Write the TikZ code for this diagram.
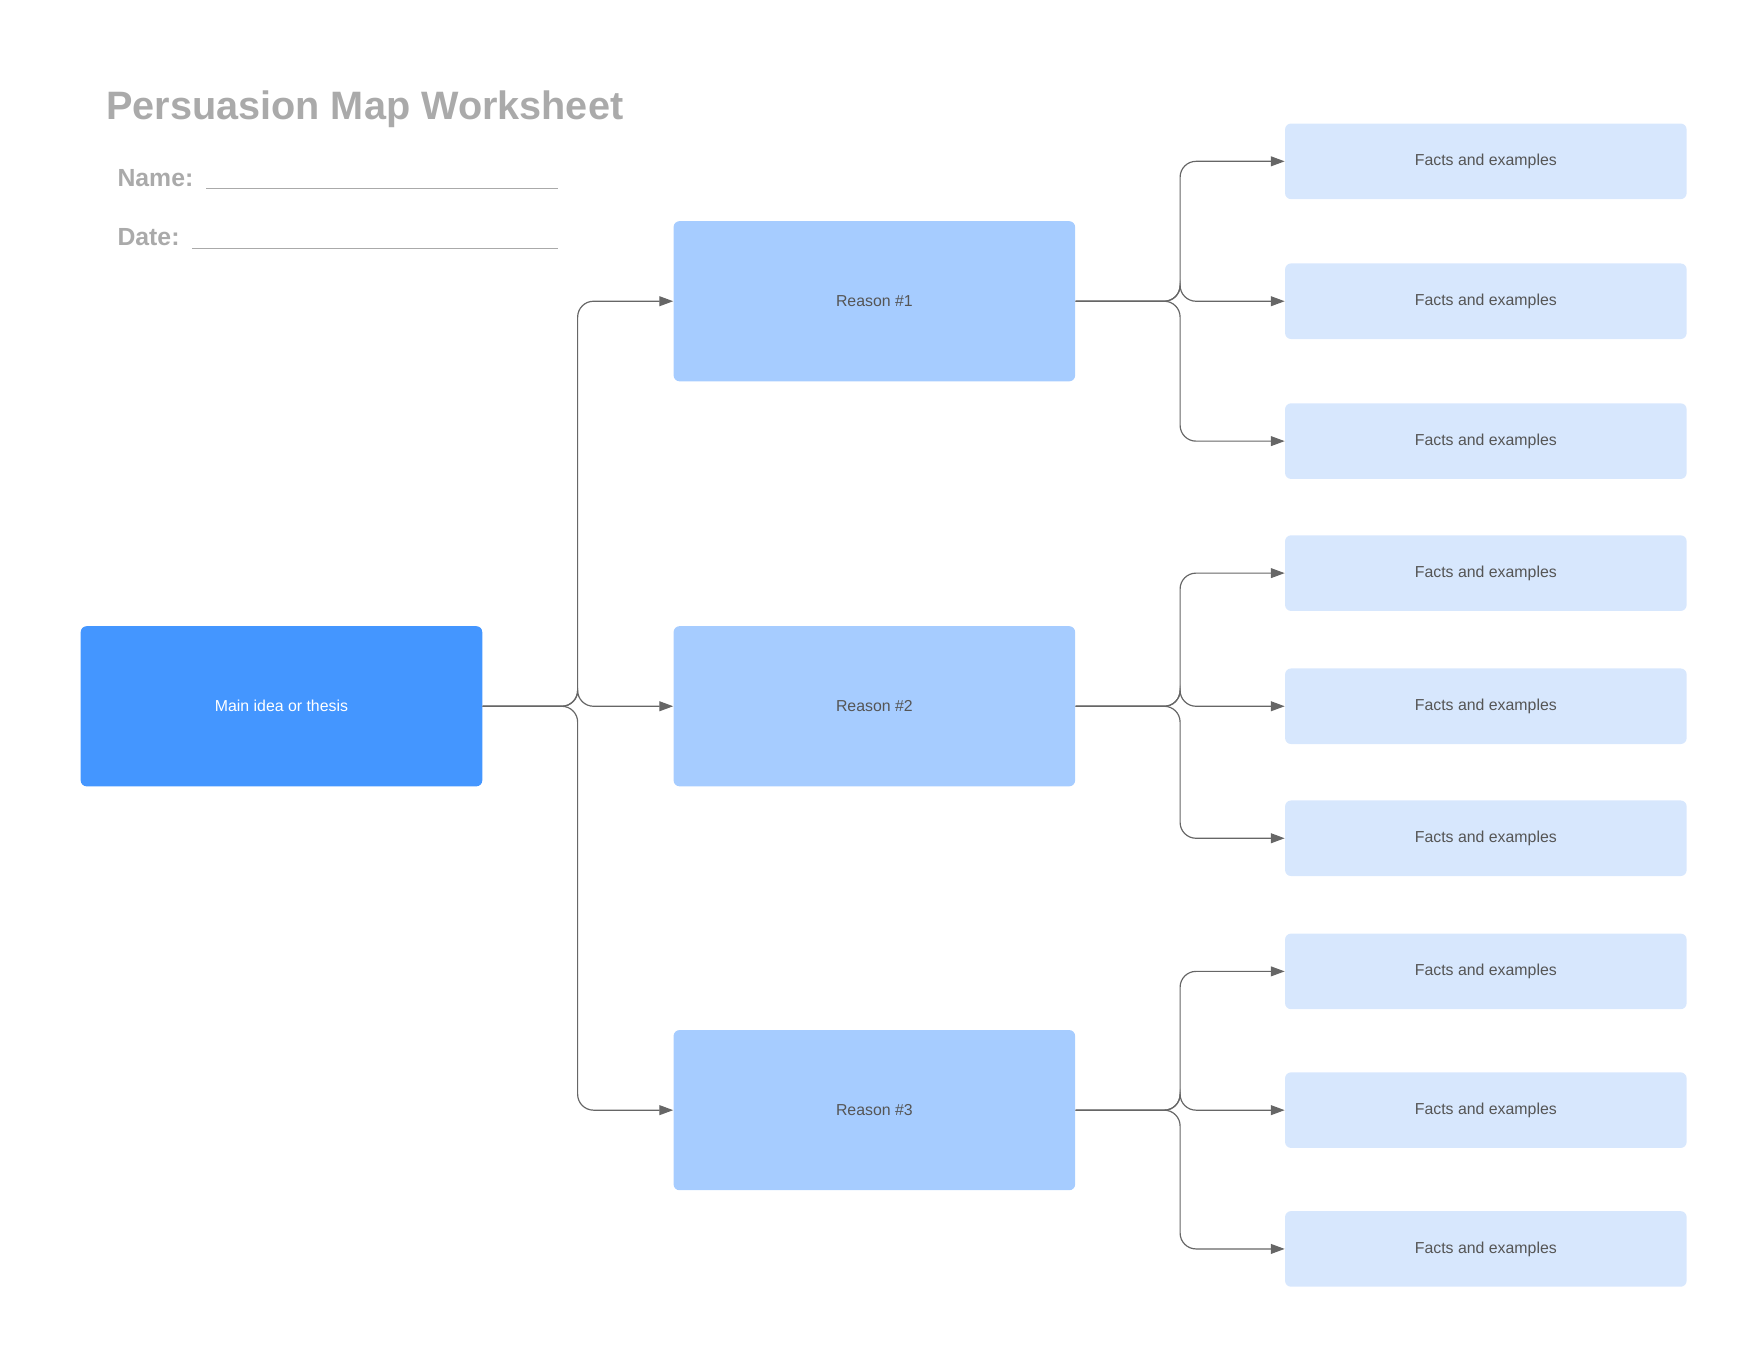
\documentclass[tikz,border=0pt]{standalone}
\usepackage{fontspec}
\setmainfont{Liberation Sans}
\usetikzlibrary{arrows.meta}
\definecolor{mainblue}{HTML}{4496FF}
\definecolor{reasonblue}{HTML}{A6CCFF}
\definecolor{factblue}{HTML}{D7E7FD}
\definecolor{titlegray}{HTML}{AAAAAA}
\definecolor{textgray}{HTML}{555555}
\definecolor{linegray}{HTML}{666666}
\tikzset{
    box/.style={rectangle, rounded corners=3pt, minimum width=7.12cm, inner sep=0pt, font=\fontsize{8}{10}\selectfont, text=textgray},
    mainbox/.style={box, fill=mainblue, minimum height=2.84cm, text=white},
    reasonbox/.style={box, fill=reasonblue, minimum height=2.84cm},
    factbox/.style={box, fill=factblue, minimum height=1.34cm},
    conn/.style={draw=linegray, line width=0.6pt, rounded corners=8pt, -{Triangle[length=7pt,width=5pt]}}
}
\begin{document}
\begin{tikzpicture}[x=0.02cm,y=-0.02cm]
    \useasboundingbox (0,0) rectangle (1560,1206);

    % Title and header lines
    \node[anchor=base west, text=titlegray, font=\bfseries\fontsize{20}{24}\selectfont] (title) at (88,106) {Persuasion Map Worksheet};
    \node[anchor=base west, text=titlegray, font=\bfseries\fontsize{12.5}{15}\selectfont] (name) at (98,165) {Name:};
    \node[anchor=base west, text=titlegray, font=\bfseries\fontsize{12.5}{15}\selectfont] (date) at (98,218) {Date:};
    \draw[titlegray, line width=0.6pt] (183,167) -- (495,167);
    \draw[titlegray, line width=0.6pt] (170,220) -- (495,220);

    % Main idea and reasons
    \node[mainbox] (main) at (249.5,626) {Main idea or thesis};
    \node[reasonbox] (r1) at (775,267) {Reason \#1};
    \node[reasonbox] (r2) at (775,626) {Reason \#2};
    \node[reasonbox] (r3) at (775,984) {Reason \#3};

    % Facts
    \foreach \i/\y in {1/143, 2/267, 3/391, 4/508, 5/626, 6/743, 7/861, 8/984, 9/1107}
        \node[factbox] (f\i) at (1317,\y) {Facts and examples};

    % Connectors
    \coordinate (mj) at (512,626);
    \foreach \r in {r1, r2, r3}
        \draw[conn] (main.east) -- (mj) |- (\r.west);

    \coordinate (j1) at (1046,267);
    \coordinate (j2) at (1046,626);
    \coordinate (j3) at (1046,984);
    \foreach \f in {f1, f2, f3}
        \draw[conn] (r1.east) -- (j1) |- (\f.west);
    \foreach \f in {f4, f5, f6}
        \draw[conn] (r2.east) -- (j2) |- (\f.west);
    \foreach \f in {f7, f8, f9}
        \draw[conn] (r3.east) -- (j3) |- (\f.west);
\end{tikzpicture}
\end{document}
